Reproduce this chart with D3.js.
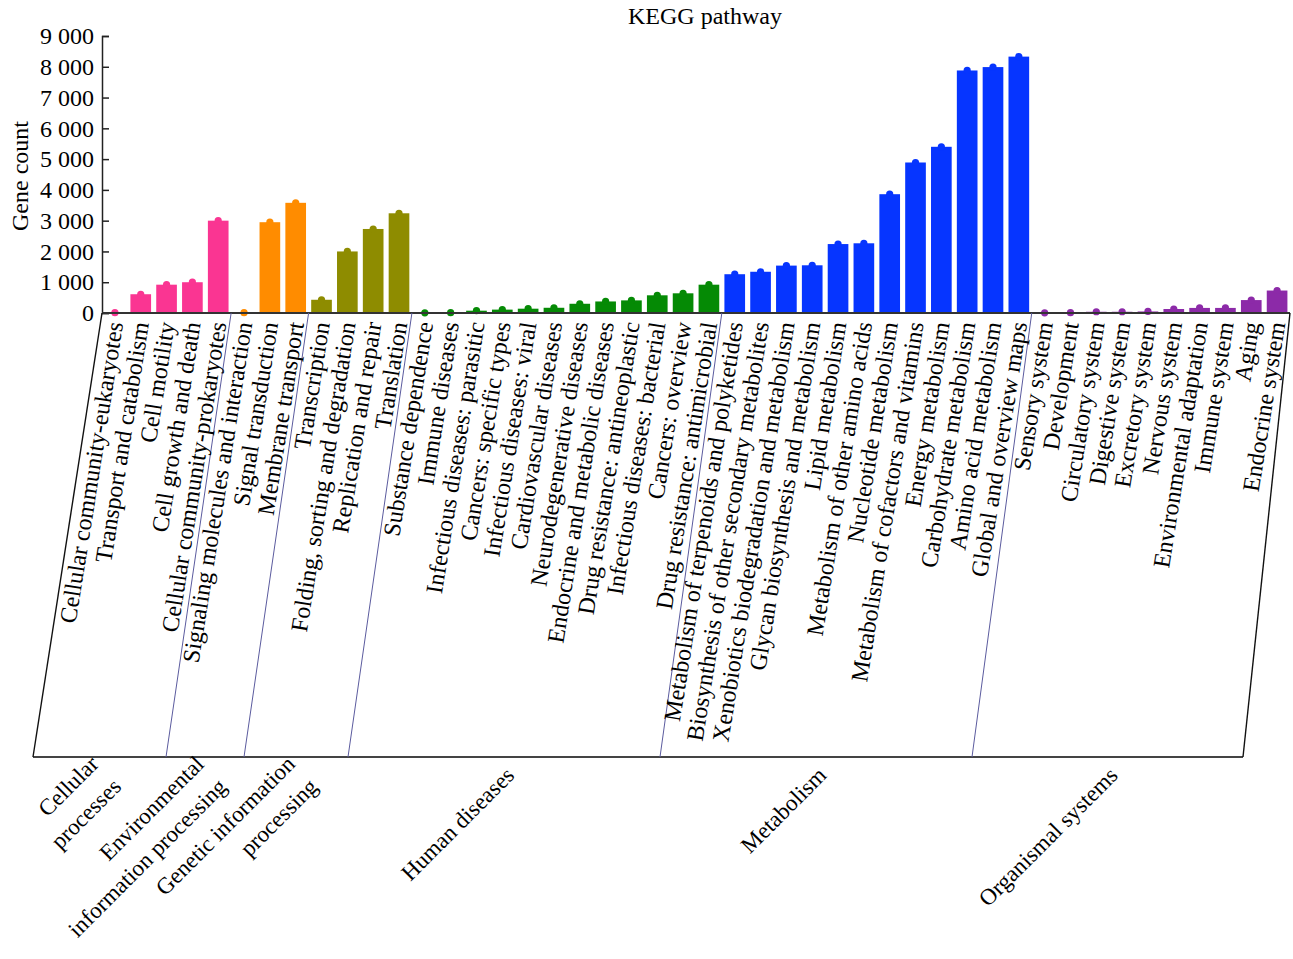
<!DOCTYPE html>
<html>
<head>
<meta charset="utf-8">
<script src="https://cdn.jsdelivr.net/npm/d3@7"></script>
<style>
  html, body { margin: 0; padding: 0; background: #fff; }
  svg { display: block; font-family: "Liberation Serif", "Times New Roman", serif; }
</style>
</head>
<body>
<svg id="chart" width="1293" height="959"></svg>
<script>
// KEGG level-2 pathways, in drawing order
const categories = [
  "Cellular community-eukaryotes", "Transport and catabolism", "Cell motility",
  "Cell growth and death", "Cellular community-prokaryotes",
  "Signaling molecules and interaction", "Signal transduction", "Membrane transport",
  "Transcription", "Folding, sorting and degradation", "Replication and repair", "Translation",
  "Substance dependence", "Immune diseases", "Infectious diseases: parasitic",
  "Cancers: specific types", "Infectious diseases: viral", "Cardiovascular diseases",
  "Neurodegenerative diseases", "Endocrine and metabolic diseases",
  "Drug resistance: antineoplastic", "Infectious diseases: bacterial", "Cancers: overview",
  "Drug resistance: antimicrobial",
  "Metabolism of terpenoids and polyketides", "Biosynthesis of other secondary metabolites",
  "Xenobiotics biodegradation and metabolism", "Glycan biosynthesis and metabolism",
  "Lipid metabolism", "Metabolism of other amino acids", "Nucleotide metabolism",
  "Metabolism of cofactors and vitamins", "Energy metabolism", "Carbohydrate metabolism",
  "Amino acid metabolism", "Global and overview maps",
  "Sensory system", "Development", "Circulatory system", "Digestive system",
  "Excretory system", "Nervous system", "Environmental adaptation", "Immune system",
  "Aging", "Endocrine system"
];

// Gene count per pathway
const geneCounts = [
  10, 610, 920, 1000, 3000,
  10, 2950, 3580,
  430, 2000, 2730, 3240,
  5, 10, 75, 110, 140, 170, 300, 375, 410, 575, 640, 920,
  1260, 1340, 1540, 1550, 2240, 2265, 3860, 4890, 5400, 7880, 7990, 8330,
  5, 10, 40, 40, 50, 130, 165, 165, 420, 730
];

// Level-1 classes and how many pathways each holds
const groupNames = [
  ["Cellular", "processes"],
  ["Environmental", "information processing"],
  ["Genetic information", "processing"],
  ["Human diseases"],
  ["Metabolism"],
  ["Organismal systems"]
];
const groupSizes = [5, 3, 4, 12, 12, 10];
const groupColors = ["#FA3592", "#FF8C00", "#8E8C00", "#058A05", "#0635FF", "#8C2AA8"];

const yTicks = [0, 1000, 2000, 3000, 4000, 5000, 6000, 7000, 8000, 9000];

const svg = d3.select("#chart");

const axisY = 313, bottomY = 757;
const frameLeft = 33, frameRight = 1243;
const x = d3.scaleBand().domain(categories).range([102, 1290]).paddingInner(0.2).paddingOuter(0.1);
const xBottom = d3.scaleBand().domain(categories).range([36, 1232]).padding(0);
const y = d3.scaleLinear().domain([0, 9000]).range([axisY, 36]);

// group index of every pathway
const groupOf = [];
groupSizes.forEach((n, g) => { for (let i = 0; i < n; i++) groupOf.push(g); });
const starts = groupSizes.reduce((acc, n, i) => { acc.push((acc[i] || 0) + n); return acc; }, [0]);

// title
svg.append("text")
  .attr("x", 705).attr("y", 24)
  .attr("text-anchor", "middle")
  .attr("font-size", 24)
  .text("KEGG pathway");

// y axis
const yAxis = svg.append("g").attr("transform", "translate(102,0)")
  .call(d3.axisRight(y).tickValues(yTicks).tickSize(7)
    .tickFormat(d => d3.format(",")(d).replace(/,/g, " ")));
yAxis.select(".domain").attr("stroke", "#222").attr("stroke-width", 1.5);
yAxis.selectAll(".tick line").attr("stroke", "#222").attr("stroke-width", 1.5);
yAxis.selectAll(".tick text")
  .attr("x", -8).attr("text-anchor", "end")
  .attr("font-family", "Liberation Serif, serif")
  .attr("font-size", 24).attr("fill", "#000")
  .style("white-space", "pre");

svg.append("text")
  .attr("transform", "translate(20,176) rotate(-90)")
  .attr("text-anchor", "middle")
  .attr("dy", "0.35em")
  .attr("font-size", 24)
  .text("Gene count");

// bars with a cap dot at each top
const bars = svg.append("g");
bars.selectAll("rect").data(categories).join("rect")
  .attr("x", d => x(d))
  .attr("width", x.bandwidth())
  .attr("y", (d, i) => y(geneCounts[i]))
  .attr("height", (d, i) => axisY - y(geneCounts[i]))
  .attr("fill", (d, i) => groupColors[groupOf[i]]);
bars.selectAll("circle").data(categories).join("circle")
  .attr("cx", d => x(d) + x.bandwidth() / 2)
  .attr("cy", (d, i) => y(geneCounts[i]))
  .attr("r", 3.6)
  .attr("fill", (d, i) => groupColors[groupOf[i]]);

// x axis baseline
svg.append("line")
  .attr("x1", 102).attr("x2", 1290).attr("y1", axisY).attr("y2", axisY)
  .attr("stroke", "#333").attr("stroke-width", 2);

// frame connecting the pathway axis to the class axis
const step = x.step();
const n = categories.length;
const topEdge = k => k === 0 ? x.range()[0] : k === n ? x.range()[1]
  : x(categories[k]) - x.paddingInner() * step / 2;
const botEdge = k => k === 0 ? frameLeft : k === n ? frameRight
  : xBottom(categories[k]);

svg.append("line")
  .attr("x1", frameLeft).attr("x2", frameRight).attr("y1", bottomY).attr("y2", bottomY)
  .attr("stroke", "#444").attr("stroke-width", 2);

starts.forEach((k, i) => {
  const outer = i === 0 || i === starts.length - 1;
  svg.append("line")
    .attr("x1", topEdge(k)).attr("y1", axisY)
    .attr("x2", botEdge(k)).attr("y2", bottomY)
    .attr("stroke", outer ? "#111" : "#5b5b9e")
    .attr("stroke-width", outer ? 1.4 : 1);
});

// pathway labels
svg.append("g").selectAll("text").data(categories).join("text")
  .attr("transform", d => `translate(${x(d) + x.bandwidth() / 2},322) rotate(-81)`)
  .attr("text-anchor", "end")
  .attr("dy", "0.35em")
  .attr("font-size", 24)
  .text(d => d);

// class labels
groupNames.forEach((lines, g) => {
  const mid = (botEdge(starts[g]) + botEdge(starts[g + 1])) / 2;
  const t = svg.append("text")
    .attr("transform", `translate(${mid + 6},771) rotate(-45)`)
    .attr("text-anchor", "end")
    .attr("font-size", 23);
  lines.forEach((ln, j) => {
    t.append("tspan")
      .attr("x", 0)
      .attr("y", (j - (lines.length - 1) / 2) * 32)
      .attr("dy", "0.35em")
      .text(ln);
  });
});
</script>
</body>
</html>
